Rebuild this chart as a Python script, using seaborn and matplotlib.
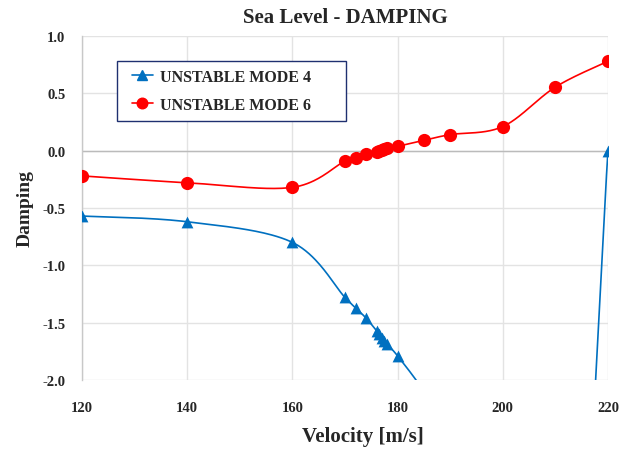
import numpy as np
import pandas as pd
import matplotlib
matplotlib.use("Agg")
import matplotlib.pyplot as plt
from matplotlib.patches import Rectangle
import seaborn as sns

velocity = [120, 140, 160, 170, 172, 174, 176, 176.5, 177, 177.5, 178, 180, 185, 190, 200, 210, 220]
mode4 = [-0.57, -0.62, -0.80, -1.28, -1.37, -1.46, -1.57, -1.60, -1.63, -1.66, -1.69, -1.79,
         -2.10, -2.50, -3.50, -7.00, 0.00]
mode6 = [-0.22, -0.28, -0.32, -0.09, -0.064, -0.032, -0.01, 0.0, 0.008, 0.015, 0.022, 0.038,
         0.09, 0.14, 0.21, 0.555, 0.78]
series_names = ["UNSTABLE MODE 4", "UNSTABLE MODE 6"]
x_ticks = [120, 140, 160, 180, 200, 220]
y_ticks = [-2.0, -1.5, -1.0, -0.5, 0.0, 0.5, 1.0]

sns.set_theme(style="white")
plt.rcParams['font.family'] = ['Liberation Serif', 'DejaVu Serif']


def smooth(xs, ys, n=40):
    P = np.column_stack([xs, ys]).astype(float)
    out = []
    m = len(P)
    for i in range(m - 1):
        p0 = P[i - 1] if i > 0 else P[i]
        p1 = P[i]
        p2 = P[i + 1]
        p3 = P[i + 2] if i + 2 < m else P[i + 1]
        c1 = p1 + (p2 - p0) / 6.0
        c2 = p2 - (p3 - p1) / 6.0
        t = np.linspace(0, 1, n)[:, None]
        seg = ((1 - t) ** 3) * p1 + 3 * ((1 - t) ** 2) * t * c1 + 3 * (1 - t) * t ** 2 * c2 + t ** 3 * p2
        out.append(seg if i == 0 else seg[1:])
    s = np.vstack(out)
    return s[:, 0], s[:, 1]


W, H = 619, 452
fig = plt.figure(figsize=(W / 100, H / 100), dpi=100)
ax = fig.add_axes([82 / W, 1 - 381 / H, (608 - 82) / W, (381 - 37) / H])

colors = ["#0070C0", "#FF0000"]
markers = ["^", "o"]
handles = []
for name, vals, c, mk, ms in zip(series_names, [mode4, mode6], colors, markers, [8.5, 9.5]):
    sx, sy = smooth(velocity, vals)
    sns.lineplot(x=sx, y=sy, ax=ax, color=c, linewidth=1.2, sort=False, estimator=None)
    df = pd.DataFrame({"v": velocity, "d": vals})
    sns.scatterplot(data=df, x="v", y="d", ax=ax, color=c, marker=mk, s=ms ** 2, linewidth=0, zorder=5)
    h, = ax.plot([], [], color=c, marker=mk, markersize=ms * 0.8, linewidth=1.2, label=name)
    handles.append(h)

ax.set_xlim(120, 220)
ax.set_ylim(-2.0, 1.0)
ax.set_xticks(x_ticks)
ax.set_yticks(y_ticks)
ax.set_xticklabels([str(t) for t in x_ticks], fontsize=10.5, fontweight="bold")
ax.set_yticklabels([f"{t:.1f}" for t in y_ticks], fontsize=10.5, fontweight="bold")
ax.tick_params(axis="both", length=0)
ax.tick_params(axis="x", pad=15)
ax.tick_params(axis="y", pad=12)
ax.grid(True, color="#E3E3E3", linewidth=1)
ax.axhline(0, color="#BBBBBB", linewidth=1, zorder=1)
for sp in ax.spines.values():
    sp.set_visible(False)
ax.spines["left"].set_visible(True)
ax.spines["left"].set_color("#C8C8C8")
ax.spines["left"].set_linewidth(1)

ax.set_xlabel("Velocity [m/s]", fontsize=15, fontweight="bold")
ax.xaxis.set_label_coords((363 - 82) / 526, -(437 - 381) / 344)
ax.xaxis.label.set_va("center")
ax.set_ylabel("Damping", fontsize=14, fontweight="bold", labelpad=6)
fig.text(345 / W, 1 - 18 / H, "Sea Level - DAMPING", fontsize=15, fontweight="bold",
         ha="center", va="center")

# legend box (frame drawn separately to match the reference proportions)
x0, x1 = (117 - 82) / 526, (346 - 82) / 526
y1, y0 = 1 - (62 - 37) / 344, 1 - (122 - 37) / 344
ax.add_patch(Rectangle((x0, y0), x1 - x0, y1 - y0, transform=ax.transAxes,
                       facecolor="white", edgecolor="#1F3070", linewidth=1.0, zorder=9))
leg = ax.legend(handles=handles, loc="center left",
                bbox_to_anchor=((132 - 82) / 526, (y0 + y1) / 2),
                borderaxespad=0, borderpad=0,
                prop={"weight": "bold", "size": 11.5}, frameon=False,
                labelspacing=0.75, handlelength=1.3, handletextpad=0.45)
leg.set_zorder(10)

fig.savefig("out.png", dpi=100)
